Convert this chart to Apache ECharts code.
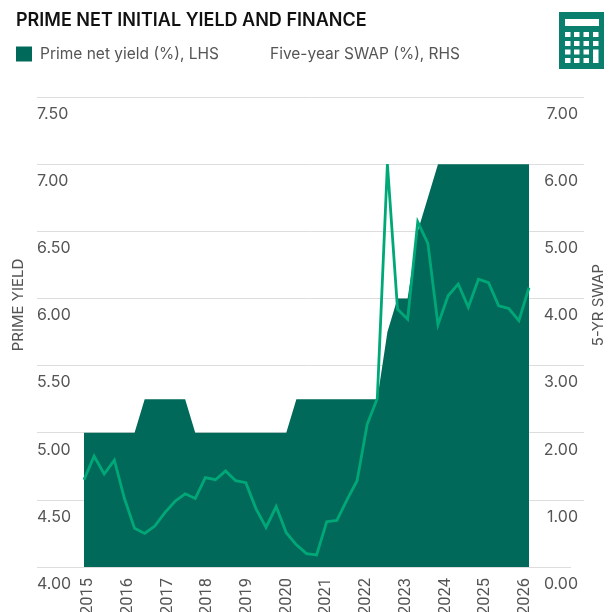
<!DOCTYPE html>
<html>
<head>
<meta charset="utf-8">
<style>html,body{margin:0;padding:0;background:#fff;overflow:hidden}#chart{width:614px;height:612px}</style>
<script src="https://cdn.jsdelivr.net/npm/echarts@6/dist/echarts.min.js"></script>
</head>
<body>
<div id="chart"></div>
<script>
// Quarterly observations, Q1 2015 to Q1 2026
const yearLabels = ['2015','2016','2017','2018','2019','2020','2021','2022','2023','2024','2025','2026'];
const primeYield = [
  5,5,5,5,5,5,5.25,5.25,5.25,5.25,5.25,5,
  5,5,5,5,5,5,5,5,5,5.25,5.25,5.25,
  5.25,5.25,5.25,5.25,5.25,5.25,5.75,6,6,6.5,6.75,7,
  7,7,7,7,7,7,7,7,7
];
const swapRate = [
  1.30,1.65,1.385,1.59,1.02,0.576,0.50,0.61,0.81,0.98,1.09,1.02,
  1.33,1.30,1.43,1.285,1.255,0.87,0.59,0.90,0.51,0.33,0.20,0.18,
  0.675,0.695,1.0,1.285,2.125,2.51,6.0,3.84,3.69,5.14,4.82,3.61,
  4.04,4.215,3.87,4.285,4.235,3.89,3.85,3.67,4.16
];

const DARK = '#00695a', BRIGHT = '#00a878', BADGE = '#0a7f6e', TEXT = '#555555', RULE = '#dddddd';
const FONT = 'Inter, "Liberation Sans", sans-serif';
const quarters = primeYield.map((_, i) => yearLabels[Math.floor(i / 4)] + ' Q' + (i % 4 + 1));

const chart = echarts.init(document.getElementById('chart'), null, { renderer: 'canvas' });

// Calculator badge in the top-right corner
const badge = [{ type: 'rect', shape: { x: 559, y: 12, width: 45, height: 57 }, style: { fill: BADGE } },
               { type: 'rect', shape: { x: 565, y: 19, width: 34, height: 7 }, style: { fill: '#fff' } }];
const keyX = [565, 574, 583.5, 593], keyY = [32, 41, 49.5, 58];
keyY.forEach((y, row) => keyX.forEach((x, col) => {
  if (col === 3 && row === 3) return;
  const tall = col === 3 && row === 2;
  badge.push({ type: 'rect', shape: { x, y, width: 5.5, height: tall ? 13.5 : 5 }, style: { fill: '#fff' } });
}));

const legendText = { fontFamily: FONT, fontSize: 15.5, color: TEXT };
const hiddenAxis = { axisLine: { show: false }, axisTick: { show: false }, splitLine: { show: false }, axisLabel: { show: false } };
const plotBox = { top: 97, bottom: 45, outerBoundsMode: 'none' };

chart.setOption({
  animation: false,
  title: {
    text: 'PRIME NET INITIAL YIELD AND FINANCE', left: 16, top: 12, padding: 0,
    textStyle: { fontFamily: FONT, fontSize: 18, fontWeight: 600, color: '#111' }
  },
  legend: [
    { left: 16, top: 46, padding: 0, itemWidth: 16, itemHeight: 15, itemGap: 8,
      data: [{ name: 'Prime net yield (%), LHS', icon: 'rect' }],
      textStyle: { ...legendText, padding: [0, 0, 0, 3] } },
    { left: 233, top: 46, padding: 0, itemWidth: 32, itemHeight: 15, itemGap: 6,
      data: [{ name: 'Five-year SWAP (%), RHS', icon: 'path://M0 6H32V9H0Z', itemStyle: { color: 'rgba(0,0,0,0)' } }],
      lineStyle: { color: BRIGHT, width: 3 }, textStyle: legendText }
  ],
  grid: [
    { ...plotBox, left: 37, right: 30 },   // wide rules and tick labels
    { ...plotBox, left: 84, right: 85 },   // plotted data
    { ...plotBox, left: 88, right: 89 }    // year labels
  ],
  xAxis: [
    { gridIndex: 0, type: 'category', show: false, data: quarters },
    { gridIndex: 1, type: 'category', data: quarters, boundaryGap: false, show: false },
    { gridIndex: 2, type: 'category', data: yearLabels, boundaryGap: false,
      axisLine: { show: false }, axisTick: { show: false },
      axisLabel: { rotate: 90, margin: 11, interval: 0, color: TEXT, fontFamily: 'Roboto, sans-serif', fontSize: 16.5 } }
  ],
  yAxis: [
    { gridIndex: 0, type: 'value', position: 'left', min: 4, max: 7.5, interval: 0.5,
      axisLine: { show: false }, axisTick: { show: false },
      splitLine: { lineStyle: { color: RULE, width: 1 }, showMinLine: false },
      axisLabel: { inside: true, margin: 0, align: 'left', verticalAlign: 'top', padding: [9, 0, 0, 0],
        color: TEXT, fontFamily: FONT, fontSize: 16, formatter: v => v.toFixed(2) } },
    { gridIndex: 0, type: 'value', position: 'right', min: 0, max: 7, interval: 1,
      axisLine: { show: false }, axisTick: { show: false }, splitLine: { show: false },
      axisLabel: { inside: true, margin: 6, align: 'right', verticalAlign: 'top', padding: [9, 0, 0, 0],
        color: TEXT, fontFamily: FONT, fontSize: 16, formatter: v => v.toFixed(2) } },
    { gridIndex: 1, type: 'value', position: 'left', min: 4, max: 7.5, interval: 0.5, ...hiddenAxis },
    { gridIndex: 1, type: 'value', position: 'right', min: 0, max: 7, interval: 1, ...hiddenAxis },
    { gridIndex: 2, type: 'value', min: 0, max: 1, ...hiddenAxis }
  ],
  series: [
    { name: 'Prime net yield (%), LHS', type: 'line', xAxisIndex: 1, yAxisIndex: 2, data: primeYield,
      symbol: 'none', lineStyle: { width: 0, color: DARK }, itemStyle: { color: DARK },
      areaStyle: { color: DARK, opacity: 1 } },
    { name: 'Five-year SWAP (%), RHS', type: 'line', xAxisIndex: 1, yAxisIndex: 3, data: swapRate,
      symbol: 'none', clip: false, lineStyle: { width: 2.8, color: BRIGHT, join: 'miter' }, itemStyle: { color: BRIGHT } }
  ],
  graphic: [
    // Baseline stops short of the outer rules
    { type: 'line', shape: { x1: 37, y1: 567.5, x2: 571, y2: 567.5 }, style: { stroke: RULE, lineWidth: 1 }, z: -1 },
    { type: 'text', x: 18, y: 305, rotation: Math.PI / 2,
      style: { text: 'PRIME YIELD', fill: TEXT, font: '15px ' + FONT, align: 'center', verticalAlign: 'middle' } },
    { type: 'text', x: 598, y: 305, rotation: Math.PI / 2,
      style: { text: '5-YR SWAP', fill: TEXT, font: '15px ' + FONT, align: 'center', verticalAlign: 'middle' } },
    { type: 'group', children: badge }
  ]
});
</script>
</body>
</html>
